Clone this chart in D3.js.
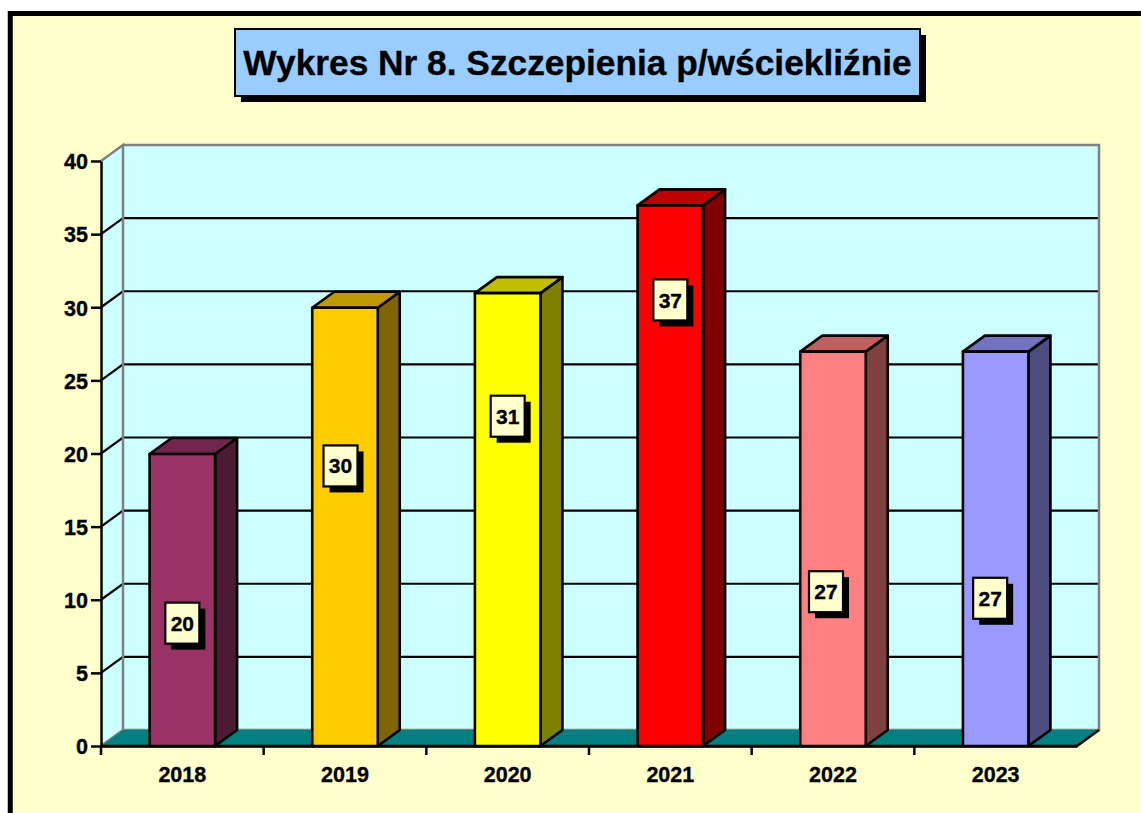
<!DOCTYPE html>
<html>
<head>
<meta charset="utf-8">
<script src="https://cdn.jsdelivr.net/npm/d3@7"></script>
<style>
  html, body { margin: 0; padding: 0; background: #fff; overflow: hidden; }
  text { font-family: "Liberation Sans", Arial, sans-serif; font-weight: bold; fill: #000; stroke: #000; stroke-width: 0.35px; }
</style>
</head>
<body>
<div id="chart-container"></div>
<script>
const years = ["2018", "2019", "2020", "2021", "2022", "2023"];
const values = [20, 30, 31, 37, 27, 27];
const barColors = ["#993366", "#FFCC00", "#FFFF00", "#FF0000", "#FF8080", "#9999FF"];
const yTicks = [0, 5, 10, 15, 20, 25, 30, 35, 40];
const titleText = "Wykres Nr 8. Szczepienia p/wściekliźnie";

// where each value label sits: height in axis units, sideways shift in px
const labelLevels = [8.4, 19.15, 22.55, 30.5, 10.55, 10.1];
const labelShifts = [0, -4.5, 0, 0, -7, -5.5];

const width = 1141;
const height = 813;
const dx = 22; // 3d depth
const dy = -16;
const barWidth = 65.5;

const x = d3.scaleBand(years, [101, 1077]);
const y = d3.scaleLinear([0, 40], [746, 161]);

const shade = (c, k) => {
    const r = d3.rgb(c);
    return d3.rgb(r.r * k, r.g * k, r.b * k).formatHex();
};
const poly = pts => "M" + pts.map(p => p.join(",")).join("L") + "Z";

const svg = d3.select("#chart-container")
    .append("svg")
    .attr("viewBox", [0, 0, width, height])
    .attr("width", width)
    .attr("height", height)
    .style("display", "block");

// page background + thick frame, runs off the right and bottom edge
svg.append("rect")
    .attr("x", 10.25).attr("y", 13.5)
    .attr("width", width + 20).attr("height", height + 20)
    .attr("fill", "#FFFFCC")
    .attr("stroke", "#000")
    .attr("stroke-width", 5);

// title box
const titleBox = { x: 235, y: 29, w: 685, h: 67 };
svg.append("rect")
    .attr("x", titleBox.x + 6).attr("y", titleBox.y + 6)
    .attr("width", titleBox.w).attr("height", titleBox.h)
    .attr("fill", "#000");
svg.append("rect")
    .attr("x", titleBox.x).attr("y", titleBox.y)
    .attr("width", titleBox.w).attr("height", titleBox.h)
    .attr("fill", "#99CCFF")
    .attr("stroke", "#000")
    .attr("stroke-width", 2);
svg.append("text")
    .attr("x", titleBox.x + titleBox.w / 2)
    .attr("y", titleBox.y + titleBox.h / 2 + 12)
    .attr("text-anchor", "middle")
    .attr("font-size", 35.3)
    .text(titleText);

// walls
const [x0, x1] = x.range();
svg.append("path")
    .attr("d", poly([[x0, y(0)], [x0 + dx, y(0) + dy], [x0 + dx, y(40) + dy], [x0, y(40)]]))
    .attr("fill", "#CCFFFF");
svg.append("rect")
    .attr("x", x0 + dx).attr("y", y(40) + dy)
    .attr("width", x1 - x0).attr("height", y(0) - y(40))
    .attr("fill", "#CCFFFF");

// gridlines on side and back wall
const grid = svg.append("g")
    .attr("fill", "none")
    .attr("stroke", "#000")
    .attr("stroke-width", 2.2);
grid.selectAll("path")
    .data(yTicks.filter(t => t > 0 && t < 40))
    .join("path")
    .attr("d", t => `M${x0},${y(t)}L${x0 + dx},${y(t) + dy}H${x1 + dx}`);

// wall outline
svg.append("path")
    .attr("d", `M${x0},${y(0)}L${x0 + dx},${y(0) + dy}V${y(40) + dy}L${x0},${y(40)}`
        + `M${x0 + dx},${y(40) + dy}H${x1 + dx}V${y(0) + dy}H${x0 + dx}`)
    .attr("fill", "none")
    .attr("stroke", "#808080")
    .attr("stroke-width", 2.5);

// floor
svg.append("path")
    .attr("d", poly([[x0, y(0)], [x1, y(0)], [x1 + dx, y(0) + dy], [x0 + dx, y(0) + dy]]))
    .attr("fill", "#008080");
svg.append("path")
    .attr("d", `M${x0},${y(0)}H${x1}L${x1 + dx},${y(0) + dy}`)
    .attr("fill", "none")
    .attr("stroke", "#000")
    .attr("stroke-width", 2.5);

// bars: front, side, top
const bars = svg.append("g")
    .selectAll("g")
    .data(years.map((year, i) => ({ year, value: values[i], color: barColors[i], i })))
    .join("g")
    .attr("stroke", "#000")
    .attr("stroke-width", 2.6)
    .attr("stroke-linejoin", "round");
const bl = d => x(d.year) + x.bandwidth() / 2 - barWidth / 2;
const barTop = d => y(d.value) + 0.5;
bars.append("path")
    .attr("fill", d => shade(d.color, 0.5))
    .attr("d", d => poly([[bl(d) + barWidth, barTop(d)], [bl(d) + barWidth + dx, barTop(d) + dy],
        [bl(d) + barWidth + dx, y(0) + dy], [bl(d) + barWidth, y(0)]]));
bars.append("path")
    .attr("fill", d => shade(d.color, 0.75))
    .attr("d", d => poly([[bl(d), barTop(d)], [bl(d) + dx, barTop(d) + dy],
        [bl(d) + barWidth + dx, barTop(d) + dy], [bl(d) + barWidth, barTop(d)]]));
bars.append("rect")
    .attr("fill", d => d.color)
    .attr("x", bl)
    .attr("y", barTop)
    .attr("width", barWidth)
    .attr("height", d => y(0) - barTop(d));

// axes
const yAxis = svg.append("g")
    .attr("transform", `translate(${x0},0)`)
    .call(d3.axisLeft(y).tickValues(yTicks).tickSize(10).tickPadding(3).tickSizeOuter(0));
const xAxis = svg.append("g")
    .attr("transform", `translate(0,${y(0)})`)
    .call(d3.axisBottom(x).tickSize(0).tickPadding(28));
svg.selectAll(".domain").attr("stroke", "#000").attr("stroke-width", 2.5);
svg.selectAll(".tick line").attr("stroke", "#000").attr("stroke-width", 2.5);
svg.selectAll(".tick text").attr("font-size", 21.5).attr("font-family", null);
yAxis.selectAll("text").attr("dy", "0.36em");
xAxis.selectAll("text").attr("dy", "0.36em");

// category separators below the floor edge (none at the far right)
svg.append("g")
    .selectAll("line")
    .data(years)
    .join("line")
    .attr("x1", d => x(d)).attr("x2", d => x(d))
    .attr("y1", y(0)).attr("y2", y(0) + 9)
    .attr("stroke", "#000")
    .attr("stroke-width", 2.5);

// value labels
const lw = 34;
const lh = 41;
const labels = svg.append("g")
    .selectAll("g")
    .data(values)
    .join("g")
    .attr("transform", (d, i) =>
        `translate(${x(years[i]) + x.bandwidth() / 2 + labelShifts[i]},${y(labelLevels[i])})`);
labels.append("rect")
    .attr("x", -lw / 2 + 6).attr("y", -lh / 2 + 6)
    .attr("width", lw).attr("height", lh)
    .attr("fill", "#000");
labels.append("rect")
    .attr("x", -lw / 2).attr("y", -lh / 2)
    .attr("width", lw).attr("height", lh)
    .attr("fill", "#FFFFCC")
    .attr("stroke", "#000")
    .attr("stroke-width", 2.2);
labels.append("text")
    .attr("text-anchor", "middle")
    .attr("dy", "0.36em")
    .attr("font-size", 21)
    .text(d => d);
</script>
</body>
</html>
